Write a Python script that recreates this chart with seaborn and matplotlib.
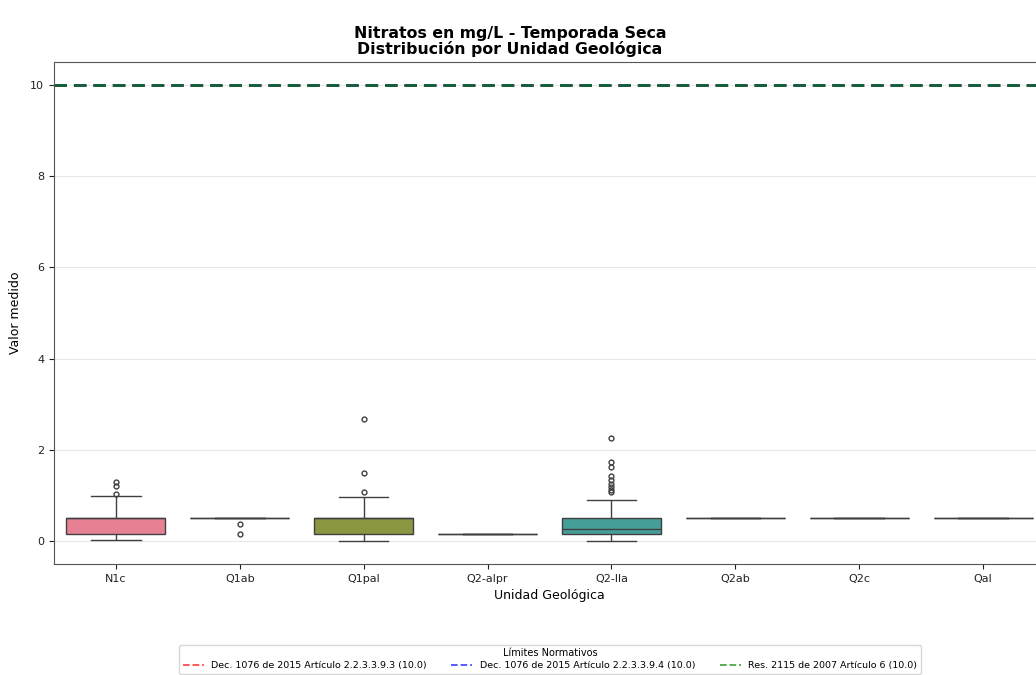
import numpy as np
import pandas as pd
import matplotlib
matplotlib.use("Agg")
import matplotlib.pyplot as plt
import seaborn as sns
from matplotlib.lines import Line2D

# ---------------- data ----------------
categories = ["N1c", "Q1ab", "Q1pal", "Q2-alpr", "Q2-lla", "Q2ab", "Q2c", "Qal"]

n1c = [0.02, 0.10, 0.15, 0.15, 0.15, 0.15, 0.20, 0.30,
       0.5, 0.5, 0.5, 0.5, 0.5, 0.5, 0.5, 0.5, 0.5,
       0.99, 1.04, 1.20, 1.30]
q1ab = [0.15, 0.37, 0.5, 0.5, 0.5, 0.5, 0.5, 0.5, 0.5, 0.5]
q1pal = [0.0, 0.10, 0.15, 0.15, 0.15, 0.15, 0.20, 0.30,
         0.5, 0.5, 0.5, 0.5, 0.5, 0.5, 0.5, 0.5, 0.5,
         0.97, 1.07, 1.50, 2.68]
q2alpr = [0.15, 0.15, 0.15]
q2lla = [0.01,
         0.15, 0.15, 0.15, 0.15, 0.15, 0.15, 0.15, 0.15, 0.15, 0.15,
         0.15, 0.18, 0.20, 0.20, 0.20, 0.22, 0.25, 0.25, 0.26,
         0.26,
         0.30, 0.35, 0.40, 0.45, 0.5, 0.5, 0.5, 0.5, 0.5, 0.5,
         0.91,
         1.07, 1.12, 1.18, 1.25, 1.34, 1.42, 1.63, 1.74, 2.27]
q2ab = [0.5, 0.5, 0.5]
q2c = [0.5, 0.5, 0.5]
qal = [0.5, 0.5, 0.5]

series = [n1c, q1ab, q1pal, q2alpr, q2lla, q2ab, q2c, qal]

limit_labels = ["Dec. 1076 de 2015 Artículo 2.2.3.3.9.3 (10.0)",
                "Dec. 1076 de 2015 Artículo 2.2.3.3.9.4 (10.0)",
                "Res. 2115 de 2007 Artículo 6 (10.0)"]
limit_values = [10.0, 10.0, 10.0]
limit_colors = ["red", "blue", "green"]

title = "Nitratos en mg/L - Temporada Seca\nDistribución por Unidad Geológica"

# ---------------- build frame ----------------
rows = []
for cat, vals in zip(categories, series):
    for v in vals:
        rows.append((cat, v))
df = pd.DataFrame(rows, columns=["Unidad", "Valor"])

# ---------------- plot ----------------
plt.rcParams["font.family"] = ["DejaVu Sans"]
fig = plt.figure(figsize=(10.36, 6.75), dpi=100)
W, H = 1036, 675
ax = fig.add_axes([54 / W, (H - 564) / H, (1045 - 54) / W, (564 - 62) / H])

sns.boxplot(data=df, x="Unidad", y="Valor", hue="Unidad", order=categories,
            hue_order=categories, palette="husl", legend=False, ax=ax,
            fliersize=3.5, linewidth=1.0)

for val, col in zip(limit_values, limit_colors):
    ax.axhline(val, color=col, linestyle=(0, (4.5, 2.5)), linewidth=2.0,
               alpha=0.75)

ax.set_ylim(-0.5, 10.5)
ax.set_xlim(-0.5, len(categories) - 0.5)
ax.grid(axis="y", alpha=0.3)
ax.grid(axis="x", visible=False)
ax.set_axisbelow(True)
ax.tick_params(axis="both", labelsize=8, colors="#222222")
ax.set_xlabel("Unidad Geológica", fontsize=9)
ax.set_ylabel("Valor medido", fontsize=9, labelpad=6)
for sp in ax.spines.values():
    sp.set_color("#555555")

fig.text(510 / W, 1 - 26 / H, title, ha="center", va="top",
         fontsize=11.3, fontweight="bold", linespacing=1.0)

handles = [Line2D([0], [0], color=c, linestyle="--", linewidth=1.3, alpha=0.7)
           for c in limit_colors]
leg = fig.legend(handles, limit_labels, loc="upper center",
                 bbox_to_anchor=(550 / W, 1 - 640 / H), ncol=3, fontsize=6.8,
                 title="Límites Normativos", title_fontsize=7.0,
                 frameon=True, handlelength=2.2, columnspacing=2.6,
                 borderpad=0.4, labelspacing=0.3)
leg.get_frame().set_edgecolor("#cccccc")

fig.savefig("out.png", dpi=100)
